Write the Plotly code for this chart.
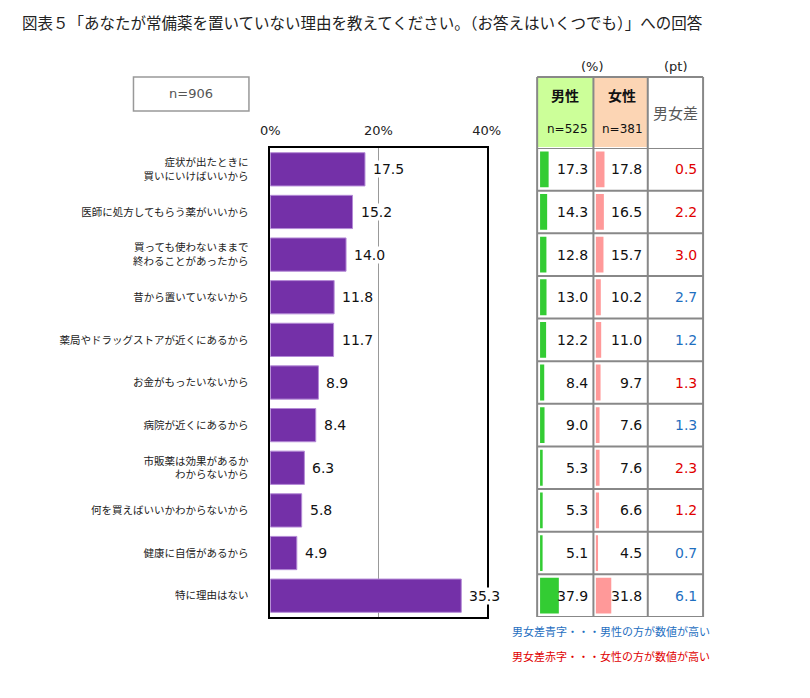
import plotly.graph_objects as go

W, H = 810, 698
OFF = 8  # page body margin

categories = [
    "症状が出たときに<br>買いにいけばいいから",
    "医師に処方してもらう薬がいいから",
    "買っても使わないままで<br>終わることがあったから",
    "昔から置いていないから",
    "薬局やドラッグストアが近くにあるから",
    "お金がもったいないから",
    "病院が近くにあるから",
    "市販薬は効果があるか<br>わからないから",
    "何を買えばいいかわからないから",
    "健康に自信があるから",
    "特に理由はない",
]
total = [17.5, 15.2, 14.0, 11.8, 11.7, 8.9, 8.4, 6.3, 5.8, 4.9, 35.3]
male = [17.3, 14.3, 12.8, 13.0, 12.2, 8.4, 9.0, 5.3, 5.3, 5.1, 37.9]
female = [17.8, 16.5, 15.7, 10.2, 11.0, 9.7, 7.6, 7.6, 6.6, 4.5, 31.8]
diff = [0.5, 2.2, 3.0, 2.7, 1.2, 1.3, 1.3, 2.3, 1.2, 0.7, 6.1]
x_ticks = [0, 20, 40]
x_ticktext = ["0%", "20%", "40%"]

title = "図表５「あなたが常備薬を置いていない理由を教えてください。（お答えはいくつでも）」への回答"
n_total = "n=906"
n_male = "n=525"
n_female = "n=381"

JP = "Noto Sans CJK JP"
NUM = "DejaVu Sans"
RED = "#e00000"
BLUE = "#1f6fbf"
GRID = "#888888"


def px(x):
    return (x - OFF) / W


def py(y):
    return 1 - (y - OFF) / H


fig = go.Figure()
fig.add_trace(go.Bar(
    x=total, y=categories, orientation="h", width=0.78,
    marker=dict(color="#7430a8", line=dict(width=1, color="#b48ad6")),
    xaxis="x", yaxis="y", hoverinfo="skip",
))
fig.add_trace(go.Bar(
    x=male, y=categories, orientation="h", width=0.84,
    marker=dict(color="#33cc33", line=dict(width=0)),
    xaxis="x2", yaxis="y", hoverinfo="skip",
))
fig.add_trace(go.Bar(
    x=female, y=categories, orientation="h", width=0.84,
    marker=dict(color="#ff9999", line=dict(width=0)),
    xaxis="x3", yaxis="y", hoverinfo="skip",
))

annotations = []
shapes = []

# value labels for main bars
for c, v in zip(categories, total):
    annotations.append(dict(
        x=v, y=c, xref="x", yref="y", text=f"{v:.1f}", showarrow=False,
        xanchor="left", yanchor="middle", xshift=7,
        font=dict(family=NUM, size=14, color="#111"),
        bgcolor="white", borderpad=0,
    ))

# table values
for i, c in enumerate(categories):
    annotations.append(dict(
        x=px(597), y=c, xref="paper", yref="y", text=f"{male[i]:.1f}",
        showarrow=False, xanchor="right", yanchor="middle",
        font=dict(family=NUM, size=14, color="#111"),
    ))
    annotations.append(dict(
        x=px(653), y=c, xref="paper", yref="y", text=f"{female[i]:.1f}",
        showarrow=False, xanchor="right", yanchor="middle",
        font=dict(family=NUM, size=14, color="#111"),
    ))
    col = BLUE if male[i] > female[i] else RED
    annotations.append(dict(
        x=px(710), y=c, xref="paper", yref="y", text=f"{diff[i]:.1f}",
        showarrow=False, xanchor="right", yanchor="middle",
        font=dict(family=NUM, size=14, color=col),
    ))

# header fills
shapes.append(dict(type="rect", xref="paper", yref="paper",
                   x0=px(543), x1=px(601), y0=py(147), y1=py(77),
                   fillcolor="#ccff99", line=dict(width=0), layer="below"))
shapes.append(dict(type="rect", xref="paper", yref="paper",
                   x0=px(601), x1=px(657), y0=py(147), y1=py(77),
                   fillcolor="#fcd5b4", line=dict(width=0), layer="below"))
# table grid: vertical lines
for xv in [543, 601, 657, 714]:
    shapes.append(dict(type="line", xref="paper", yref="paper",
                       x0=px(xv), x1=px(xv), y0=py(617), y1=py(77),
                       line=dict(color=GRID, width=2)))
# top border of header
shapes.append(dict(type="line", xref="paper", yref="paper",
                   x0=px(543), x1=px(714), y0=py(77), y1=py(77),
                   line=dict(color=GRID, width=2)))
# row lines
for k in range(len(categories) + 1):
    shapes.append(dict(type="line", xref="paper", yref="y",
                       x0=px(543), x1=px(714), y0=k - 0.5, y1=k - 0.5,
                       line=dict(color=GRID, width=2)))
# n=906 box
shapes.append(dict(type="rect", xref="paper", yref="paper",
                   x0=px(127), x1=px(246), y0=py(111), y1=py(77),
                   line=dict(color="#999999", width=1.5), fillcolor="white"))

annotations += [
    dict(x=px(10), y=py(22), xref="paper", yref="paper", text=title,
         showarrow=False, xanchor="left", yanchor="middle",
         font=dict(family=JP, size=15.5, color="#222")),
    dict(x=px(186), y=py(94), xref="paper", yref="paper", text=n_total,
         showarrow=False, xanchor="center", yanchor="middle",
         font=dict(family=NUM, size=13, color="#555")),
    dict(x=px(600), y=py(66), xref="paper", yref="paper", text="(%)",
         showarrow=False, xanchor="center", yanchor="middle",
         font=dict(family=NUM, size=13, color="#222")),
    dict(x=px(686), y=py(66), xref="paper", yref="paper", text="(pt)",
         showarrow=False, xanchor="center", yanchor="middle",
         font=dict(family=NUM, size=13, color="#222")),
    dict(x=px(572), y=py(95), xref="paper", yref="paper", text="<b>男性</b>",
         showarrow=False, xanchor="center", yanchor="middle",
         font=dict(family=JP, size=14, color="#111")),
    dict(x=px(630), y=py(95), xref="paper", yref="paper", text="<b>女性</b>",
         showarrow=False, xanchor="center", yanchor="middle",
         font=dict(family=JP, size=14, color="#111")),
    dict(x=px(597), y=py(129), xref="paper", yref="paper", text=n_male,
         showarrow=False, xanchor="right", yanchor="middle",
         font=dict(family=NUM, size=12, color="#111")),
    dict(x=px(654), y=py(129), xref="paper", yref="paper", text=n_female,
         showarrow=False, xanchor="right", yanchor="middle",
         font=dict(family=NUM, size=12, color="#111")),
    dict(x=px(686), y=py(112), xref="paper", yref="paper", text="男女差",
         showarrow=False, xanchor="center", yanchor="middle",
         font=dict(family=JP, size=15, color="#595959")),
    dict(x=px(515), y=py(631), xref="paper", yref="paper",
         text="男女差青字・・・男性の方が数値が高い",
         showarrow=False, xanchor="left", yanchor="middle",
         font=dict(family=JP, size=11, color=BLUE)),
    dict(x=px(515), y=py(656), xref="paper", yref="paper",
         text="男女差赤字・・・女性の方が数値が高い",
         showarrow=False, xanchor="left", yanchor="middle",
         font=dict(family=JP, size=11, color=RED)),
]

fig.update_layout(
    width=W, height=H,
    margin=dict(l=0, r=0, t=0, b=0),
    paper_bgcolor="white", plot_bgcolor="white",
    showlegend=False, barmode="overlay",
    xaxis=dict(
        domain=[px(268), px(491)], range=[0, 40], side="top",
        tickvals=x_ticks, ticktext=x_ticktext,
        tickfont=dict(family=NUM, size=13, color="#222"),
        showgrid=True, gridcolor="#999999", gridwidth=1,
        showline=True, mirror=True, linecolor="black", linewidth=1.5,
        zeroline=False, ticks="", ticklabelstandoff=6, fixedrange=True,
        anchor="y",
    ),
    xaxis4=dict(
        overlaying="x", side="bottom", anchor="y", range=[0, 40],
        tickvals=x_ticks, showticklabels=False, ticks="outside",
        ticklen=4, tickwidth=1.5, tickcolor="black", showgrid=False,
        showline=False, zeroline=False, fixedrange=True,
    ),
    xaxis2=dict(domain=[px(543), px(601)], range=[-5.9, 107.8],
                visible=False, anchor="y", fixedrange=True),
    xaxis3=dict(domain=[px(601), px(657)], range=[-5.0, 107.0],
                visible=False, anchor="y", fixedrange=True),
    yaxis=dict(
        domain=[py(617), py(148)], type="category",
        categoryorder="array", categoryarray=categories,
        range=[len(categories) - 0.5, -0.5],
        tickfont=dict(family=JP, size=10.5, color="#222"),
        showline=True, mirror=True, linecolor="black", linewidth=1.5,
        showgrid=False, ticks="", ticklabelstandoff=18, fixedrange=True,
        anchor="x",
    ),
    annotations=annotations,
    shapes=shapes,
)

fig.write_html("out.html")
